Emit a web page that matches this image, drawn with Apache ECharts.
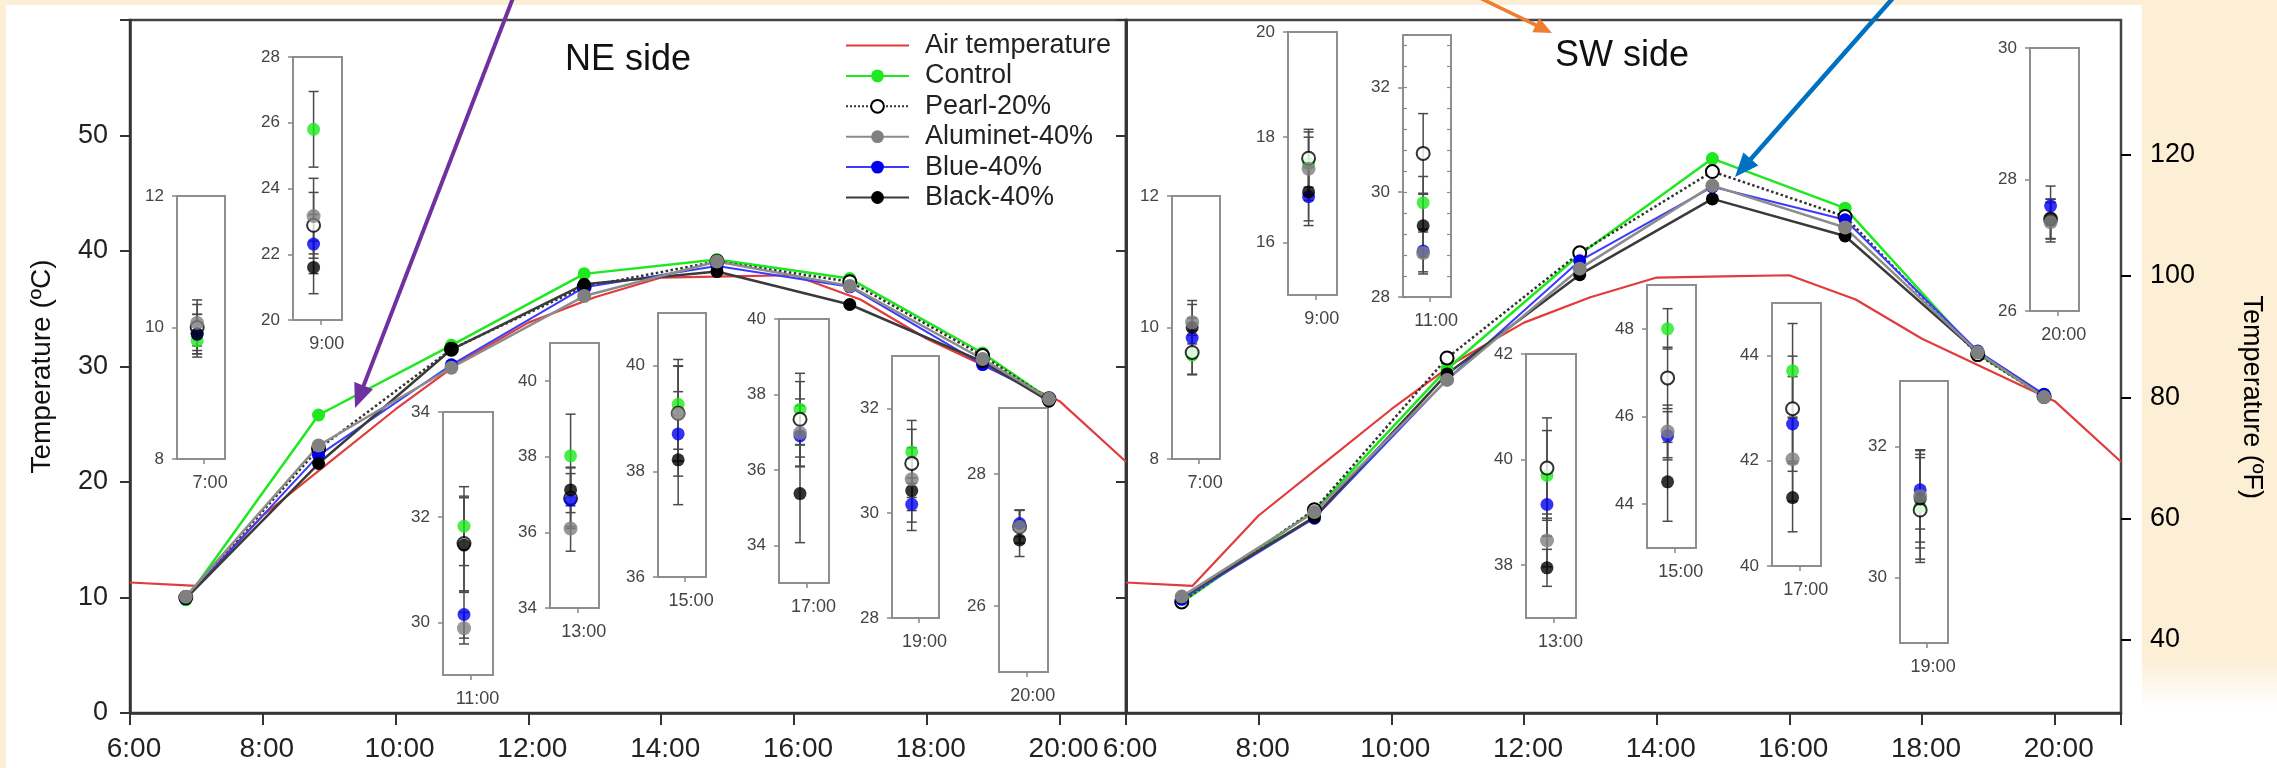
<!DOCTYPE html>
<html>
<head>
<meta charset="utf-8">
<script src="https://cdn.jsdelivr.net/npm/echarts@6/dist/echarts.min.js"></script>
<style>
html,body{margin:0;padding:0;background:#fcefd6;width:2277px;height:768px;overflow:hidden;}
#bgWhite{position:absolute;left:6px;top:5px;width:2136px;height:763px;background:#ffffff;}
#bgFade{position:absolute;left:2142px;top:660px;width:135px;height:108px;background:linear-gradient(#fcefd6,#ffffff 45%);}
#chart{position:absolute;left:0;top:0;width:2277px;height:768px;}
</style>
</head>
<body>
<div id="bgWhite"></div>
<div id="bgFade"></div>
<div id="chart"></div>
<script>
// ================= DATA =================
const airHours = [6,7,8,9,10,11,12,13,14,15,16,17,18,19,20,21];
const airTemp  = [11.3,11.0,17.1,21.7,26.3,30.5,33.8,36.0,37.7,37.8,37.9,35.8,32.4,29.7,27.0,21.75];

const measTimes   = [6.84,8.84,10.84,12.84,14.84,16.84,18.84,19.84];
const insetLabels = ['7:00','9:00','11:00','13:00','15:00','17:00','19:00','20:00'];
const treatments  = ['Control','Pearl-20%','Aluminet-40%','Blue-40%','Black-40%'];
const airName     = 'Air temperature';
const panelTitles = ['NE side','SW side'];
const yNameC = 'Temperature (ºC)';
const yNameF = 'Temperature (ºF)';

// NE side means (ºC)
const neControl  = [9.8, 25.8, 31.83, 38.02, 39.27, 37.61, 31.17, 27.2];
const nePearl    = [10.0, 22.88, 31.5, 36.9, 39.1, 37.34, 30.95, 27.2];
const neAluminet = [10.07, 23.16, 29.89, 36.1, 39.09, 36.98, 30.65, 27.2];
const neBlue     = [9.9, 22.31, 30.15, 36.85, 38.71, 36.9, 30.17, 27.25];
const neBlack    = [9.9, 21.6, 31.47, 37.12, 38.22, 35.37, 30.43, 27.0];
// NE side error (±)
const neControlErr  = [0.25, 1.15, 0.75, 1.1, 0.85, 0.95, 0.6, 0.25];
const nePearlErr    = [0.35, 1.0, 0.9, 0.8, 0.9, 1.0, 0.65, 0.25];
const neAluminetErr = [0.35, 1.15, 0.3, 0.6, 0.9, 0.9, 0.6, 0.25];
const neBlueErr     = [0.3, 0.9, 0.45, 0.7, 0.8, 0.8, 0.5, 0.2];
const neBlackErr    = [0.3, 0.8, 0.9, 0.6, 0.85, 1.3, 0.6, 0.25];

// SW side means (ºC)
const swControl  = [9.58, 17.5, 29.8, 39.7, 48.0, 43.71, 31.08, 27.4];
const swPearl    = [9.62, 17.6, 30.74, 39.84, 46.88, 42.99, 31.03, 27.4];
const swAluminet = [10.08, 17.4, 28.84, 38.47, 45.66, 42.03, 31.24, 27.35];
const swBlue     = [9.84, 16.87, 28.88, 39.15, 45.56, 42.7, 31.34, 27.6];
const swBlack    = [10.0, 16.96, 29.36, 37.95, 44.51, 41.3, 31.2, 27.4];
// SW side error (±)
const swControlErr  = [0.3, 0.6, 0.5, 0.85, 0.46, 0.9, 0.8, 0.3];
const swPearlErr    = [0.33, 0.55, 0.76, 0.95, 0.7, 1.0, 0.8, 0.3];
const swAluminetErr = [0.33, 0.6, 0.4, 0.5, 0.6, 0.8, 0.7, 0.3];
const swBlueErr     = [0.3, 0.55, 0.4, 0.6, 0.55, 0.9, 0.6, 0.3];
const swBlackErr    = [0.35, 0.55, 0.6, 0.35, 0.9, 0.65, 0.75, 0.3];

// inset axis ranges and tick labels
const neInsetMin   = [8, 20, 29, 34, 36, 33, 28, 25];
const neInsetMax   = [12, 28, 34, 41, 41, 40, 33, 29];
const neInsetTicks = [[8,10,12],[20,22,24,26,28],[30,32,34],[34,36,38,40],[36,38,40],[34,36,38,40],[28,30,32],[26,28]];
const swInsetMin   = [8, 15, 28, 37, 43, 40, 29, 26];
const swInsetMax   = [12, 20, 33, 42, 49, 45, 33, 30];
const swInsetTicks = [[8,10,12],[16,18,20],[28,30,32],[38,40,42],[44,46,48],[40,42,44],[30,32],[26,28,30]];

// ================= LAYOUT / STYLE =================
const FONT = '"Liberation Sans", Arial, Helvetica, sans-serif';
// inset frames [left, top, width, height]
const neInsetRects = [[177,196,48,263],[293,57,49,263],[443,412,50,263],[550,343,49,265],[658,313,48,264],[779,319,50,264],[892,356,47,262],[999,408,49,264]];
const swInsetRects = [[1172,196,48,263],[1288,32,49,263],[1403,35,48,262],[1526,354,50,264],[1647,285,49,263],[1772,303,49,263],[1900,381,48,262],[2030,48,49,263]];

const tStyles = [
  {line:{color:'#1ee81e', width:2.5}, symbol:'circle', size:13, item:{color:'#1ee81e'}},
  {line:{color:'#333333', width:2.5, type:'dotted'}, symbol:'emptyCircle', size:13, item:{color:'#000000', borderWidth:2.5}},
  {line:{color:'#8c8c8c', width:2.5}, symbol:'circle', size:14, item:{color:'#808080'}},
  {line:{color:'#3b3bff', width:2}, symbol:'circle', size:13, item:{color:'#0000ee'}},
  {line:{color:'#3a3a3a', width:2.5}, symbol:'circle', size:13, item:{color:'#000000'}}
];
const drawOrder = [0,1,3,4,2];

const neMeans = [neControl, nePearl, neAluminet, neBlue, neBlack];
const neErrs  = [neControlErr, nePearlErr, neAluminetErr, neBlueErr, neBlackErr];
const swMeans = [swControl, swPearl, swAluminet, swBlue, swBlack];
const swErrs  = [swControlErr, swPearlErr, swAluminetErr, swBlueErr, swBlackErr];

const grids = [], xAxes = [], yAxes = [], series = [];

// ---- main panels ----
const mainLeft = [130, 1126];
const timeFmt = v => (v % 2 === 0 && v < 21) ? (v + ':00') : '';
for (let p = 0; p < 2; p++) {
  grids.push({left: mainLeft[p], top: 20, width: 996 - p, height: 693, show: true, borderColor: '#444', borderWidth: 2.5});
  xAxes.push({gridIndex: p, type: 'value', min: 6, max: 21, interval: 2,
    axisLine: {show: true, lineStyle: {color: '#333', width: 2.5}},
    axisTick: {show: true, inside: false, length: 12, lineStyle: {color: '#333', width: 2}},
    splitLine: {show: false},
    axisLabel: {show: true, margin: 22, fontSize: 28, color: '#222', fontFamily: FONT, formatter: timeFmt, padding: [0,0,0,8]}});
}
// grid 2: Fahrenheit scale
grids.push({left: 1126, top: 154.7, width: 995, height: 485.2, show: false});
xAxes.push({gridIndex: 2, type: 'value', min: 6, max: 21, show: false});

// yAxis 0: left C axis
yAxes.push({gridIndex: 0, type: 'value', position: 'left', min: 0, max: 60, interval: 10,
  axisLine: {show: true, lineStyle: {color: '#333', width: 2.5}},
  axisTick: {show: true, length: 10, lineStyle: {color: '#333', width: 2}},
  splitLine: {show: false},
  axisLabel: {margin: 22, fontSize: 27, color: '#222', fontFamily: FONT, formatter: v => v < 60 ? String(v) : ''},
  name: yNameC, nameLocation: 'middle', nameRotate: 90, nameGap: 74,
  nameTextStyle: {fontSize: 28, color: '#111', fontFamily: FONT}});
// yAxis 1: right mirror ticks of left panel
yAxes.push({gridIndex: 0, type: 'value', position: 'right', min: 0, max: 60, interval: 10,
  axisLine: {show: true, lineStyle: {color: '#333', width: 2.5}},
  axisTick: {show: true, inside: true, length: 10, lineStyle: {color: '#333', width: 2}},
  splitLine: {show: false}, axisLabel: {show: false}});
// yAxis 2: right panel C scale (no labels)
yAxes.push({gridIndex: 1, type: 'value', position: 'left', min: 0, max: 60, interval: 10,
  axisLine: {show: true, lineStyle: {color: '#333', width: 2.5}},
  axisTick: {show: false}, splitLine: {show: false}, axisLabel: {show: false}});
// yAxis 3: F scale
yAxes.push({gridIndex: 2, type: 'value', position: 'right', min: 40, max: 120, interval: 20,
  axisLine: {show: false},
  axisTick: {show: true, length: 10, lineStyle: {color: '#000', width: 2}},
  splitLine: {show: false},
  axisLabel: {margin: 29, fontSize: 27, color: '#000', fontFamily: FONT},
  name: yNameF, nameLocation: 'middle', nameRotate: -90, nameGap: 117,
  nameTextStyle: {fontSize: 27, color: '#000', fontFamily: FONT}});

const mainY = [0, 2];
const meansByPanel = [neMeans, swMeans];
for (let p = 0; p < 2; p++) {
  series.push({type: 'line', name: airName, xAxisIndex: p, yAxisIndex: mainY[p],
    data: airHours.map((h, i) => [h, airTemp[i]]), symbol: 'none',
    lineStyle: {color: '#e23b3b', width: 2.2}, itemStyle: {color: '#e23b3b'}, z: 2});
  drawOrder.forEach(t => {
    const st = tStyles[t];
    series.push({type: 'line', name: treatments[t], xAxisIndex: p, yAxisIndex: mainY[p],
      data: measTimes.map((h, i) => [h, meansByPanel[p][t][i]]),
      symbol: st.symbol, symbolSize: st.size, showSymbol: true,
      lineStyle: st.line, itemStyle: st.item, z: 3});
  });
}

// ---- insets ----
function renderErr(params, api) {
  const x = api.value(0), m = api.value(1), e = api.value(2);
  const p1 = api.coord([x, m + e]), p2 = api.coord([x, m - e]);
  const c = 5, st = {stroke: '#4a4a4a', lineWidth: 1.5};
  return {type: 'group', children: [
    {type: 'line', shape: {x1: p1[0], y1: p1[1], x2: p2[0], y2: p2[1]}, style: st},
    {type: 'line', shape: {x1: p1[0] - c, y1: p1[1], x2: p1[0] + c, y2: p1[1]}, style: st},
    {type: 'line', shape: {x1: p2[0] - c, y1: p2[1], x2: p2[0] + c, y2: p2[1]}, style: st}
  ]};
}

const PX = 0.42;  // point position inside inset frame (fraction)
function addInset(rect, min, max, ticks, label, means, errs, k, minor) {
  const gi = grids.length;
  grids.push({left: rect[0], top: rect[1], width: rect[2], height: rect[3], show: true,
    borderColor: '#8e8e8e', borderWidth: 2, backgroundColor: 'transparent'});
  const xi = xAxes.length;
  xAxes.push({gridIndex: gi, type: 'value', min: 0, max: 1,
    axisLine: {show: false}, splitLine: {show: false},
    axisTick: {show: true, customValues: [0.56], length: 5, lineStyle: {color: '#888', width: 1.5}},
    axisLabel: {show: true, customValues: [0.69], margin: 15, fontSize: 18, color: '#444', fontFamily: FONT, formatter: () => label}});
  const yi = yAxes.length;
  yAxes.push({gridIndex: gi, type: 'value', position: 'left', min: min, max: max,
    axisLine: {show: false}, splitLine: {show: false},
    axisTick: {show: true, customValues: ticks, length: 5, lineStyle: {color: '#888', width: 1.5}},
    axisLabel: {show: true, customValues: ticks, margin: 13, fontSize: 17, color: '#444', fontFamily: FONT}});
  if (minor) {
    const mv = [];
    for (let v = min; v <= max + 1e-9; v += 0.4) mv.push(Math.round(v * 10) / 10);
    ['left', 'right'].forEach(pos => {
      yAxes.push({gridIndex: gi, type: 'value', position: pos, min: min, max: max,
        axisLine: {show: false}, splitLine: {show: false}, axisLabel: {show: false},
        axisTick: {show: true, inside: true, customValues: mv, length: 4, lineStyle: {color: '#888', width: 1.2}}});
    });
  }
  series.push({type: 'custom', xAxisIndex: xi, yAxisIndex: yi, silent: true, renderItem: renderErr,
    data: drawOrder.map(t => [PX, means[t][k], errs[t][k]]), z: 4});
  drawOrder.forEach(t => {
    const st = tStyles[t];
    series.push({type: 'scatter', xAxisIndex: xi, yAxisIndex: yi, silent: true,
      symbol: st.symbol, symbolSize: st.size, itemStyle: st.item,
      data: [[PX, means[t][k]]], z: 5});
  });
}
for (let k = 0; k < 8; k++) {
  addInset(neInsetRects[k], neInsetMin[k], neInsetMax[k], neInsetTicks[k], insetLabels[k], neMeans, neErrs, k, false);
}
for (let k = 0; k < 8; k++) {
  addInset(swInsetRects[k], swInsetMin[k], swInsetMax[k], swInsetTicks[k], insetLabels[k], swMeans, swErrs, k, k === 2);
}

// ---- decorative arrows ----
function arrowEls(x1, y1, x2, y2, color, w, hl, hw) {
  const dx = x2 - x1, dy = y2 - y1, L = Math.hypot(dx, dy), ux = dx / L, uy = dy / L;
  const bx = x2 - ux * hl, by = y2 - uy * hl;
  return [
    {type: 'line', shape: {x1: x1, y1: y1, x2: bx + ux * 3, y2: by + uy * 3}, style: {stroke: color, lineWidth: w}, z: 100},
    {type: 'polygon', shape: {points: [[x2, y2], [bx - uy * hw, by + ux * hw], [bx + uy * hw, by - ux * hw]]}, style: {fill: color}, z: 100}
  ];
}
const graphics = [].concat(
  arrowEls(513, -2, 355, 408, '#7030a0', 4, 24, 10),
  arrowEls(1480, -2, 1552, 33, '#ed7d31', 3.5, 18, 8),
  arrowEls(1893, -2, 1735, 177, '#0070c0', 4.5, 24, 10),
  [
    {type: 'text', x: 628, y: 60, z: 50, style: {text: panelTitles[0], font: '36px ' + FONT, fill: '#111', textAlign: 'center', textVerticalAlign: 'middle'}},
    {type: 'text', x: 1622, y: 56, z: 50, style: {text: panelTitles[1], font: '36px ' + FONT, fill: '#111', textAlign: 'center', textVerticalAlign: 'middle'}}
  ]
);

const option = {
  animation: false,
  backgroundColor: 'transparent',
  grid: grids,
  xAxis: xAxes,
  yAxis: yAxes,
  legend: {
    data: [{name: airName, itemStyle: {opacity: 0}}].concat(treatments),
    orient: 'vertical', left: 845, top: 32, padding: 0,
    itemWidth: 63, itemHeight: 16, itemGap: 3.4, selectedMode: false,
    textStyle: {fontSize: 27, color: '#222', fontFamily: FONT, padding: [0, 0, 0, 11]}
  },
  graphic: graphics,
  series: series
};

const chart = echarts.init(document.getElementById('chart'), null, {renderer: 'canvas'});
chart.setOption(option);
</script>
</body>
</html>
